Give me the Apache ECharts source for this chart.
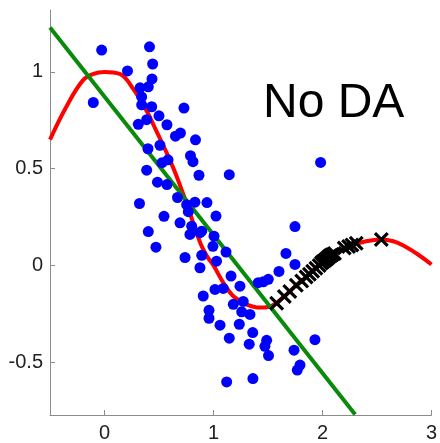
<!DOCTYPE html>
<html>
<head>
<meta charset="utf-8">
<script src="https://cdn.jsdelivr.net/npm/echarts@6/dist/echarts.min.js"></script>
<style>
html,body{margin:0;padding:0;background:#fff;}
#chart{width:440px;height:443px;}
</style>
</head>
<body>
<div id="chart"></div>
<script>
// Tick labels
var xTicks = [0, 1, 2, 3];
var yTicks = [-0.5, 0, 0.5, 1];

// Blue scatter points [x, y]
var bluePoints = [
  [-0.026, 1.113], [0.413, 1.130], [0.211, 1.005], [0.442, 1.041], [0.436, 0.964],
  [0.326, 0.918], [0.402, 0.923], [-0.103, 0.842], [0.341, 0.871], [0.341, 0.830],
  [0.433, 0.820], [0.729, 0.813], [0.500, 0.773], [0.387, 0.753], [0.310, 0.729],
  [0.573, 0.727], [0.697, 0.684], [0.651, 0.668], [0.835, 0.649], [0.399, 0.603],
  [0.509, 0.621], [0.789, 0.567], [0.812, 0.536], [0.867, 0.466], [0.528, 0.531],
  [0.583, 0.546], [0.387, 0.492], [0.486, 0.430], [0.573, 0.418], [0.670, 0.351],
  [0.321, 0.320], [0.830, 0.327], [0.940, 0.325], [0.769, 0.278], [0.754, 0.314],
  [0.546, 0.254], [0.693, 0.220], [0.800, 0.203], [0.402, 0.175], [0.784, 0.160],
  [0.876, 0.169], [1.023, 0.255], [1.145, 0.469], [0.995, 0.099], [0.892, 0.177],
  [1.005, 0.151], [1.115, 0.069], [0.472, 0.094], [0.739, 0.041], [0.892, 0.052],
  [0.876, -0.012], [1.028, 0.022], [1.161, -0.055], [1.748, 0.201], [1.665, 0.062],
  [1.748, 0.005], [1.601, -0.031], [1.503, -0.072], [1.457, -0.085], [1.411, -0.089],
  [1.243, -0.107], [1.014, -0.124], [1.090, -0.119], [0.906, -0.158], [1.182, -0.201],
  [1.273, -0.186], [1.259, -0.240], [1.335, -0.253], [0.959, -0.232], [0.959, -0.273],
  [1.060, -0.309], [1.237, -0.304], [1.360, -0.347], [1.145, -0.376], [1.328, -0.407],
  [1.488, -0.387], [1.472, -0.418], [1.931, -0.384], [1.739, -0.438], [1.505, -0.466],
  [1.794, -0.515], [1.769, -0.541], [1.121, -0.602], [1.362, -0.585], [1.983, 0.532]
];

// Red curve [x, y]
var redCurve = [
  [-0.5, 0.65], [-0.35, 0.82], [-0.2, 0.955], [-0.1, 0.99], [0, 1.0], [0.14, 0.99],
  [0.26, 0.915], [0.39, 0.795], [0.48, 0.69], [0.56, 0.595], [0.65, 0.478], [0.75, 0.325],
  [0.88, 0.115], [0.94, 0.048], [1.0, 0.0], [1.09, -0.089], [1.18, -0.158], [1.3, -0.201],
  [1.43, -0.218], [1.53, -0.21], [1.65, -0.16], [1.75, -0.107], [1.85, -0.06], [2.0, 0.02],
  [2.13, 0.068], [2.25, 0.10], [2.4, 0.125], [2.54, 0.134], [2.65, 0.125], [2.75, 0.10],
  [2.88, 0.055], [3.0, 0.005]
];

// Green line [x, y]
var greenLine = [[-0.5, 1.23], [2.3, -0.77]];

// Black crosses [x, y]
var crossPoints = [
  [1.58, -0.195], [1.65, -0.16], [1.70, -0.135], [1.76, -0.103], [1.81, -0.08],
  [1.85, -0.06], [1.88, -0.045], [1.91, -0.03], [1.94, -0.015], [1.97, 0.0],
  [1.99, 0.012], [2.0, 0.018], [2.01, 0.022], [2.02, 0.026], [2.03, 0.03],
  [2.04, 0.035], [2.05, 0.04], [2.06, 0.045], [2.07, 0.05], [2.08, 0.053],
  [2.09, 0.056], [2.11, 0.062], [2.20, 0.09], [2.24, 0.098], [2.27, 0.105],
  [2.31, 0.114], [2.54, 0.134]
];

var chart = echarts.init(document.getElementById('chart'));
var axisColor = '#8c8c8c';
var labelStyle = {color: '#222', fontSize: 20, fontFamily: 'Liberation Sans, Arial, sans-serif'};
var crossPath = 'path://M1.5,0 L5,3.5 L8.5,0 L10,1.5 L6.5,5 L10,8.5 L8.5,10 L5,6.5 L1.5,10 L0,8.5 L3.5,5 L0,1.5 Z';

chart.setOption({
  animation: false,
  backgroundColor: '#fff',
  grid: {left: 50, right: 8, top: 10, bottom: 27, containLabel: false},
  xAxis: {
    type: 'value', min: -0.5, max: 3,
    axisLine: {show: true, onZero: false, lineStyle: {color: axisColor, width: 1}},
    axisTick: {show: true, inside: true, length: 5, customValues: xTicks, lineStyle: {color: axisColor}},
    axisLabel: Object.assign({margin: 8, customValues: xTicks}, labelStyle),
    splitLine: {show: false}
  },
  yAxis: {
    type: 'value', min: -0.773, max: 1.32,
    axisLine: {show: true, onZero: false, lineStyle: {color: axisColor, width: 1}},
    axisTick: {show: true, inside: true, length: 5, customValues: yTicks, lineStyle: {color: axisColor}},
    axisLabel: Object.assign({margin: 7, customValues: yTicks}, labelStyle),
    splitLine: {show: false}
  },
  graphic: [{
    type: 'text', left: 263, top: 80,
    style: {text: 'No DA', fill: '#000', fontSize: 48, fontFamily: 'Liberation Sans, Arial, sans-serif'}
  }],
  series: [
    {
      type: 'line', data: redCurve, smooth: 0.4, showSymbol: false, symbol: 'none',
      lineStyle: {color: '#ff0000', width: 4}, z: 2
    },
    {
      type: 'line', data: greenLine, showSymbol: false, symbol: 'none',
      lineStyle: {color: '#0a8a0a', width: 4}, z: 3
    },
    {
      type: 'scatter', data: bluePoints, symbol: 'circle', symbolSize: 11,
      itemStyle: {color: '#0000ff', opacity: 1}, z: 4
    },
    {
      type: 'scatter', data: crossPoints, symbol: crossPath, symbolSize: 15,
      itemStyle: {color: '#000', opacity: 1}, z: 5
    }
  ]
});
</script>
</body>
</html>
